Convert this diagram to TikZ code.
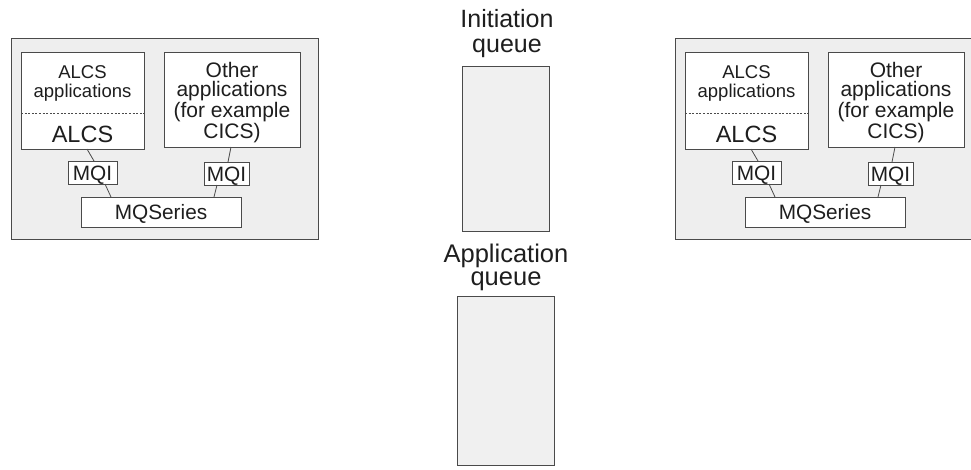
\documentclass[tikz,border=0pt]{standalone}
\usepackage{fontspec}
\setmainfont{Liberation Sans}
\usetikzlibrary{calc}
\definecolor{edge}{HTML}{4A4A4A}
\definecolor{panel}{HTML}{EEEEEE}
\definecolor{queuefill}{HTML}{F0F0F0}
\definecolor{ink}{HTML}{1E1E1E}
\tikzset{
  panelbox/.style={draw=edge, fill=panel, line width=0.9pt, inner sep=0pt, outer sep=0pt, anchor=north west},
  whitebox/.style={draw=edge, fill=white, line width=0.9pt, inner sep=0pt, outer sep=0pt, anchor=north west, text=ink},
  queuebox/.style={draw=edge, fill=queuefill, line width=0.9pt, inner sep=0pt, outer sep=0pt, anchor=north west},
  label/.style={text=ink, inner sep=0pt, align=center},
  wire/.style={draw=edge, line width=0.8pt},
  sepline/.style={draw=edge, line width=0.6pt, dash pattern=on 2pt off 1.6pt},
  mqifont/.style={font=\fontsize{20.8}{21}\selectfont, text height=15pt, text depth=0pt},
}
\newcommand\mqsystem[2]{%
  \begin{scope}[xshift=#2, name prefix=#1-]
    \node[panelbox, minimum width=307pt, minimum height=201pt] (panel) at (11,38) {};
    \node[whitebox, minimum width=123pt, minimum height=97pt] (alcs) at (21,52) {};
    \draw[sepline] ([yshift=-61pt]alcs.north west) -- ([yshift=-61pt]alcs.north east);
    \node[label, font=\fontsize{18.5}{19}\selectfont] (alcsapp) at (82.5,83.8) {ALCS\\applications};
    \node[label, anchor=base, font=\fontsize{23.5}{24}\selectfont] (alcsname) at (82.5,142) {ALCS};
    \node[whitebox, minimum width=136pt, minimum height=95pt] (other) at (164,52) {};
    \node[label, font=\fontsize{21}{19.5}\selectfont] (otherapp) at (232,102.3) {Other\\applications\\(for example\\CICS)};
    \node[whitebox, mqifont, minimum width=49pt, minimum height=23pt] (mqiL) at (68,161) {MQI};
    \node[whitebox, mqifont, minimum width=45pt, minimum height=23pt] (mqiR) at (204,162) {MQI};
    \node[whitebox, mqifont, minimum width=160pt, minimum height=30pt] (mqs) at (81,197) {MQSeries};
    \draw[wire] ([xshift=66pt]alcs.south west) -- ([xshift=26pt]mqiL.north west);
    \draw[wire] ([xshift=37pt]mqiL.south west) -- ([xshift=30pt]mqs.north west);
    \draw[wire] ([xshift=67pt]other.south west) -- ([xshift=24pt]mqiR.north west);
    \draw[wire] ([xshift=13pt]mqiR.south west) -- ([xshift=133pt]mqs.north west);
  \end{scope}}
\begin{document}
\begin{tikzpicture}[x=1pt, y=-1pt]
  \useasboundingbox (0,0) rectangle (971,469);
  \clip (0,0) rectangle (971,469);
  \mqsystem{left}{0pt}
  \mqsystem{right}{664pt}
  \node[label, font=\fontsize{25}{25}\selectfont] (initlbl) at (507,33.4) {Initiation\\queue};
  \node[queuebox, minimum width=87pt, minimum height=165pt] (initq) at (462,66) {};
  \node[label, font=\fontsize{25.5}{23}\selectfont] (applbl) at (506,267.5) {Application\\queue};
  \node[queuebox, minimum width=97pt, minimum height=169pt] (appq) at (457,296) {};
\end{tikzpicture}
\end{document}
